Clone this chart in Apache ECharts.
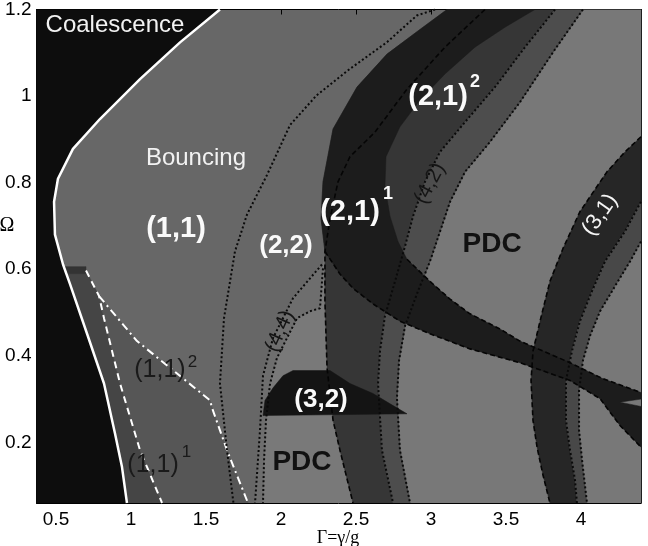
<!DOCTYPE html>
<html>
<head>
<meta charset="utf-8">
<style>
  html, body { margin: 0; padding: 0; background: #fff; }
  #main { width: 648px; height: 546px; }
</style>
<script src="https://cdn.jsdelivr.net/npm/echarts@6/dist/echarts.min.js"></script>
</head>
<body>
<div id="main"></div>
<script>
// axis ticks
var xTicks = [0.5, 1, 1.5, 2, 2.5, 3, 3.5, 4];
var yTicks = [0.2, 0.4, 0.6, 0.8, 1, 1.2];

// boundaries, [Gamma, Omega]
var coalescenceEdge = [[1.593,1.2],[1.327,1.124],[1.06,1.039],[0.793,0.947],[0.613,0.878],[0.513,0.809],[0.487,0.756],[0.493,0.68],[0.547,0.611],[0.593,0.566],[0.707,0.451],[0.82,0.336],[0.893,0.221],[0.94,0.143],[0.973,0.06]];
var dashed11 = [[0.7,0.597],[0.787,0.538],[0.82,0.487],[0.927,0.336],[1.06,0.182],[1.207,0.06]];
var dashDot11 = [[0.787,0.538],[1.04,0.434],[1.307,0.359],[1.527,0.297],[1.54,0.28],[1.64,0.182],[1.78,0.06]];
var cornerPatch = [[0.56,0.606],[0.7,0.606],[0.7,0.59],[0.56,0.59]];

var dotted22 = [[3.027,1.2],[2.905,1.186],[2.705,1.124],[2.46,1.063],[2.238,1.002],[2.06,0.933],[1.907,0.818],[1.773,0.726],[1.693,0.641],[1.62,0.487],[1.593,0.336],[1.64,0.182],[1.683,0.06]];
var dotted44a = [[2.273,0.611],[2.08,0.533],[1.947,0.441],[1.88,0.354],[1.86,0.228],[1.827,0.06]];
var dotted44b = [[2.28,0.602],[2.26,0.51],[2.193,0.503],[2.107,0.487],[2.04,0.441],[1.973,0.395],[1.927,0.336],[1.9,0.251],[1.887,0.159],[1.88,0.06]];

var crescentOuter = [[3.107,1.2],[2.927,1.154],[2.707,1.097],[2.507,1.021],[2.347,0.924],[2.28,0.802],[2.267,0.717],[2.293,0.641]];
var crescentInner = [[3.693,1.2],[3.493,1.159],[3.293,1.113],[3.093,1.051],[2.927,0.991],[2.793,0.929],[2.7,0.86],[2.693,0.791],[2.727,0.722],[2.78,0.664],[2.84,0.623]];
var innerDash = [[3.36,1.2],[3.093,1.113],[2.84,1.016],[2.627,0.917],[2.46,0.86],[2.38,0.802],[2.327,0.717],[2.293,0.641]];
var bandLeftLow = [[2.293,0.641],[2.293,0.526],[2.307,0.372],[2.347,0.251],[2.393,0.182],[2.48,0.06]];
var tongueLower = [[2.293,0.641],[2.393,0.589],[2.48,0.556],[2.613,0.52],[2.793,0.48],[2.993,0.451],[3.26,0.416],[3.593,0.384],[3.927,0.343],[4.127,0.301],[4.26,0.239],[4.4,0.189]];
var tongueTip = [[4.4,0.283],[4.26,0.293],[4.4,0.3]];
var tongueUpper = [[2.84,0.623],[2.993,0.572],[3.127,0.531],[3.26,0.497],[3.46,0.462],[3.593,0.434],[3.927,0.384],[4.147,0.347],[4.4,0.315]];
var band42Left = [[3.827,1.2],[3.627,1.113],[3.427,1.021],[3.227,0.94],[3.06,0.871],[2.96,0.802],[2.88,0.722],[2.827,0.653],[2.76,0.572],[2.693,0.492],[2.66,0.411],[2.647,0.336],[2.673,0.182],[2.747,0.06]];
var band42Right = [[4.013,1.2],[3.813,1.101],[3.593,0.986],[3.393,0.894],[3.227,0.825],[3.127,0.756],[3.06,0.687],[2.993,0.618],[2.913,0.549],[2.827,0.469],[2.787,0.389],[2.773,0.303],[2.793,0.182],[2.86,0.06]];

var band31Left = [[4.4,0.906],[4.293,0.871],[4.173,0.825],[3.993,0.733],[3.88,0.648],[3.793,0.572],[3.727,0.48],[3.68,0.411],[3.667,0.343],[3.68,0.251],[3.707,0.189],[3.747,0.124],[3.793,0.06]];
var band31Mid = [[4.4,0.756],[4.293,0.687],[4.16,0.618],[4.073,0.549],[3.993,0.48],[3.94,0.411],[3.9,0.343],[3.9,0.251],[3.927,0.182],[3.96,0.113],[3.973,0.06]];
var band31Right = [[4.4,0.664],[4.327,0.618],[4.227,0.561],[4.127,0.503],[4.06,0.446],[4.013,0.389],[3.987,0.32],[3.987,0.228],[4.007,0.159],[4.04,0.06]];

var region32 = [[2.08,0.366],[2.327,0.366],[2.46,0.336],[2.613,0.313],[2.747,0.285],[2.84,0.266],[1.88,0.262],[1.893,0.297],[1.947,0.326],[2.013,0.354]];

var labels = [
  { text: 'Coalescence', at: [0.893, 1.163], kind: 'plain' },
  { text: 'Bouncing', at: [1.433, 0.855], kind: 'plain' },
  { text: '(1,1)', at: [1.3, 0.692], kind: 'big' },
  { text: '(2,2)', at: [2.033, 0.653], kind: 'mid' },
  { text: '(2,1)', at: [2.46, 0.733], kind: 'big' },
  { text: '1', at: [2.713, 0.774], kind: 'sup' },
  { text: '(2,1)', at: [3.047, 0.998], kind: 'big' },
  { text: '2', at: [3.293, 1.032], kind: 'sup' },
  { text: 'PDC', at: [3.407, 0.657], kind: 'pdc' },
  { text: 'PDC', at: [2.14, 0.154], kind: 'pdc' },
  { text: '(3,2)', at: [2.267, 0.299], kind: 'mid' },
  { text: '(1,1)', at: [1.193, 0.366], kind: 'dark' },
  { text: '2', at: [1.41, 0.386], kind: 'darkSup' },
  { text: '(1,1)', at: [1.147, 0.147], kind: 'dark' },
  { text: '1', at: [1.37, 0.177], kind: 'darkSup' },
  { text: '(4,4)', at: [1.993, 0.457], kind: 'tiltDark' },
  { text: '(4,2)', at: [2.993, 0.798], kind: 'tiltDark' },
  { text: '(3,1)', at: [4.127, 0.726], kind: 'tiltWhite' }
];

var sans = "'Liberation Sans', Arial, Helvetica, sans-serif";
var serif = "'Liberation Serif', 'Times New Roman', serif";
var labelStyle = {
  plain: { color: '#f2f2f2', size: 24, weight: 'normal' },
  big: { color: '#fafafa', size: 29, weight: 'bold' },
  mid: { color: '#fafafa', size: 26, weight: 'bold' },
  sup: { color: '#fafafa', size: 18, weight: 'bold' },
  pdc: { color: '#111', size: 28, weight: 'bold' },
  dark: { color: '#1a1a1a', size: 25, weight: 'normal' },
  darkSup: { color: '#1a1a1a', size: 17, weight: 'normal' },
  tiltDark: { color: '#151515', size: 21, weight: 'normal' },
  tiltWhite: { color: '#f5f5f5', size: 22, weight: 'normal' }
};
var tilt = { '(4,4)': 66, '(4,2)': 62, '(3,1)': 55 };

function rev(a) { return a.slice().reverse(); }

var xMin = 0.37, xMax = 4.4, yMin = 0.06, yMax = 1.2;

// filled regions, drawn in order
var layers = [
  { pts: band42Right.concat([[xMax, yMin], [xMax, yMax]]), color: '#787878' },
  { pts: dotted44b.concat([[2.48, 0.06]], rev(bandLeftLow).slice(1)), color: '#797979' },
  { pts: dotted44a.concat(rev(dotted44b)), color: '#6e6e6e' },
  { pts: crescentOuter.concat(bandLeftLow.slice(1), rev(band42Right)), color: '#363636' },
  { pts: band42Left.concat(rev(band42Right)), color: '#4d4d4d' },
  { pts: band31Left.concat(rev(band31Mid)), color: '#262626' },
  { pts: band31Mid.concat(rev(band31Right)), color: '#484848' },
  { pts: crescentOuter.concat(tongueLower.slice(1), tongueTip, rev(tongueUpper), rev(crescentInner).slice(1)), color: '#1c1c1c' },
  { pts: region32, color: '#141414' },
  { pts: [[xMin, yMax]].concat(coalescenceEdge, [[xMin, yMin]]), color: '#0d0d0d' },
  { pts: [[0.555, 0.6]].concat(coalescenceEdge.filter(function (p) { return p[1] < 0.6; }), rev(dashed11)), color: '#454545' },
  { pts: dashDot11.concat(rev(dashed11.slice(1))), color: '#565656' },
  { pts: cornerPatch, color: '#333333' }
];

var dot = [2, 2.4], dash = [5, 3];
var lines = [
  { pts: coalescenceEdge, color: '#fff', width: 2.5, type: 'solid' },
  { pts: dashed11, color: '#fff', width: 2, type: [7, 5] },
  { pts: dashDot11, color: '#fff', width: 2, type: [8, 4, 2, 4] },
  { pts: dotted22, color: '#0a0a0a', width: 2, type: dot },
  { pts: dotted44a, color: '#0a0a0a', width: 2, type: dot },
  { pts: dotted44b, color: '#0a0a0a', width: 2, type: dot },
  { pts: band42Left, color: '#0a0a0a', width: 2, type: dot },
  { pts: band42Right, color: '#0a0a0a', width: 2, type: dot },
  { pts: band31Mid, color: '#0a0a0a', width: 2, type: dot },
  { pts: band31Right, color: '#0a0a0a', width: 2, type: dot },
  { pts: innerDash.concat(bandLeftLow.slice(1)), color: '#050505', width: 1.6, type: dash },
  { pts: band31Left, color: '#050505', width: 1.6, type: dash },
  { pts: tongueUpper, color: '#050505', width: 1.6, type: dash },
  { pts: tongueLower, color: '#050505', width: 1.6, type: dash }
];

var series = [];
layers.forEach(function (layer) {
  series.push({
    type: 'custom',
    coordinateSystem: 'cartesian2d',
    silent: true,
    clip: true,
    data: [layer.pts[0]],
    renderItem: function (params, api) {
      return {
        type: 'polygon',
        shape: { points: layer.pts.map(function (p) { return api.coord(p); }) },
        style: { fill: layer.color, stroke: layer.color, lineWidth: 0.5 }
      };
    }
  });
});
lines.forEach(function (ln) {
  series.push({
    type: 'line',
    data: ln.pts,
    symbol: 'none',
    silent: true,
    clip: true,
    z: 3,
    lineStyle: { color: ln.color, width: ln.width, type: ln.type }
  });
});
series.push({
  type: 'custom',
  coordinateSystem: 'cartesian2d',
  silent: true,
  clip: false,
  z: 5,
  data: labels.map(function (l) { return l.at; }),
  renderItem: function (params, api) {
    var l = labels[params.dataIndex];
    var s = labelStyle[l.kind];
    var c = api.coord(l.at);
    return {
      type: 'text',
      x: c[0],
      y: c[1],
      rotation: (tilt[l.text] && l.kind.indexOf('tilt') === 0 ? tilt[l.text] : 0) * Math.PI / 180,
      style: {
        text: l.text,
        fill: s.color,
        fontSize: s.size,
        fontWeight: s.weight,
        fontFamily: sans,
        align: 'center',
        verticalAlign: 'middle'
      }
    };
  }
});

function frameAxis(pos, ticks, min, max, showLabels, margin) {
  return {
    type: 'value',
    position: pos,
    min: min,
    max: max,
    axisLine: { show: true, onZero: false, lineStyle: { color: '#000', width: 1 } },
    axisTick: { show: true, inside: true, length: 5, customValues: ticks, lineStyle: { color: '#000' } },
    axisLabel: { show: showLabels, customValues: ticks, color: '#000', fontSize: 19, fontFamily: sans, margin: margin },
    splitLine: { show: false }
  };
}

var chart = echarts.init(document.getElementById('main'));
chart.setOption({
  animation: false,
  backgroundColor: '#fff',
  grid: { left: 36.5, right: 7, top: 7, bottom: 43, show: true, backgroundColor: '#676767', borderWidth: 0 },
  xAxis: [frameAxis('bottom', xTicks, xMin, xMax, true, 7), frameAxis('top', xTicks, xMin, xMax, false, 7)],
  yAxis: [frameAxis('left', yTicks, yMin, yMax, true, 5), frameAxis('right', yTicks, yMin, yMax, false, 5)],
  graphic: [
    { type: 'text', x: 7, y: 226, style: { text: 'Ω', fontSize: 20, fontFamily: serif, fill: '#000', align: 'center', verticalAlign: 'middle' } },
    { type: 'text', x: 338, y: 538, style: { text: 'Γ=γ/g', fontSize: 18, fontFamily: serif, fill: '#000', align: 'center', verticalAlign: 'middle' } }
  ],
  series: series
});
</script>
</body>
</html>
